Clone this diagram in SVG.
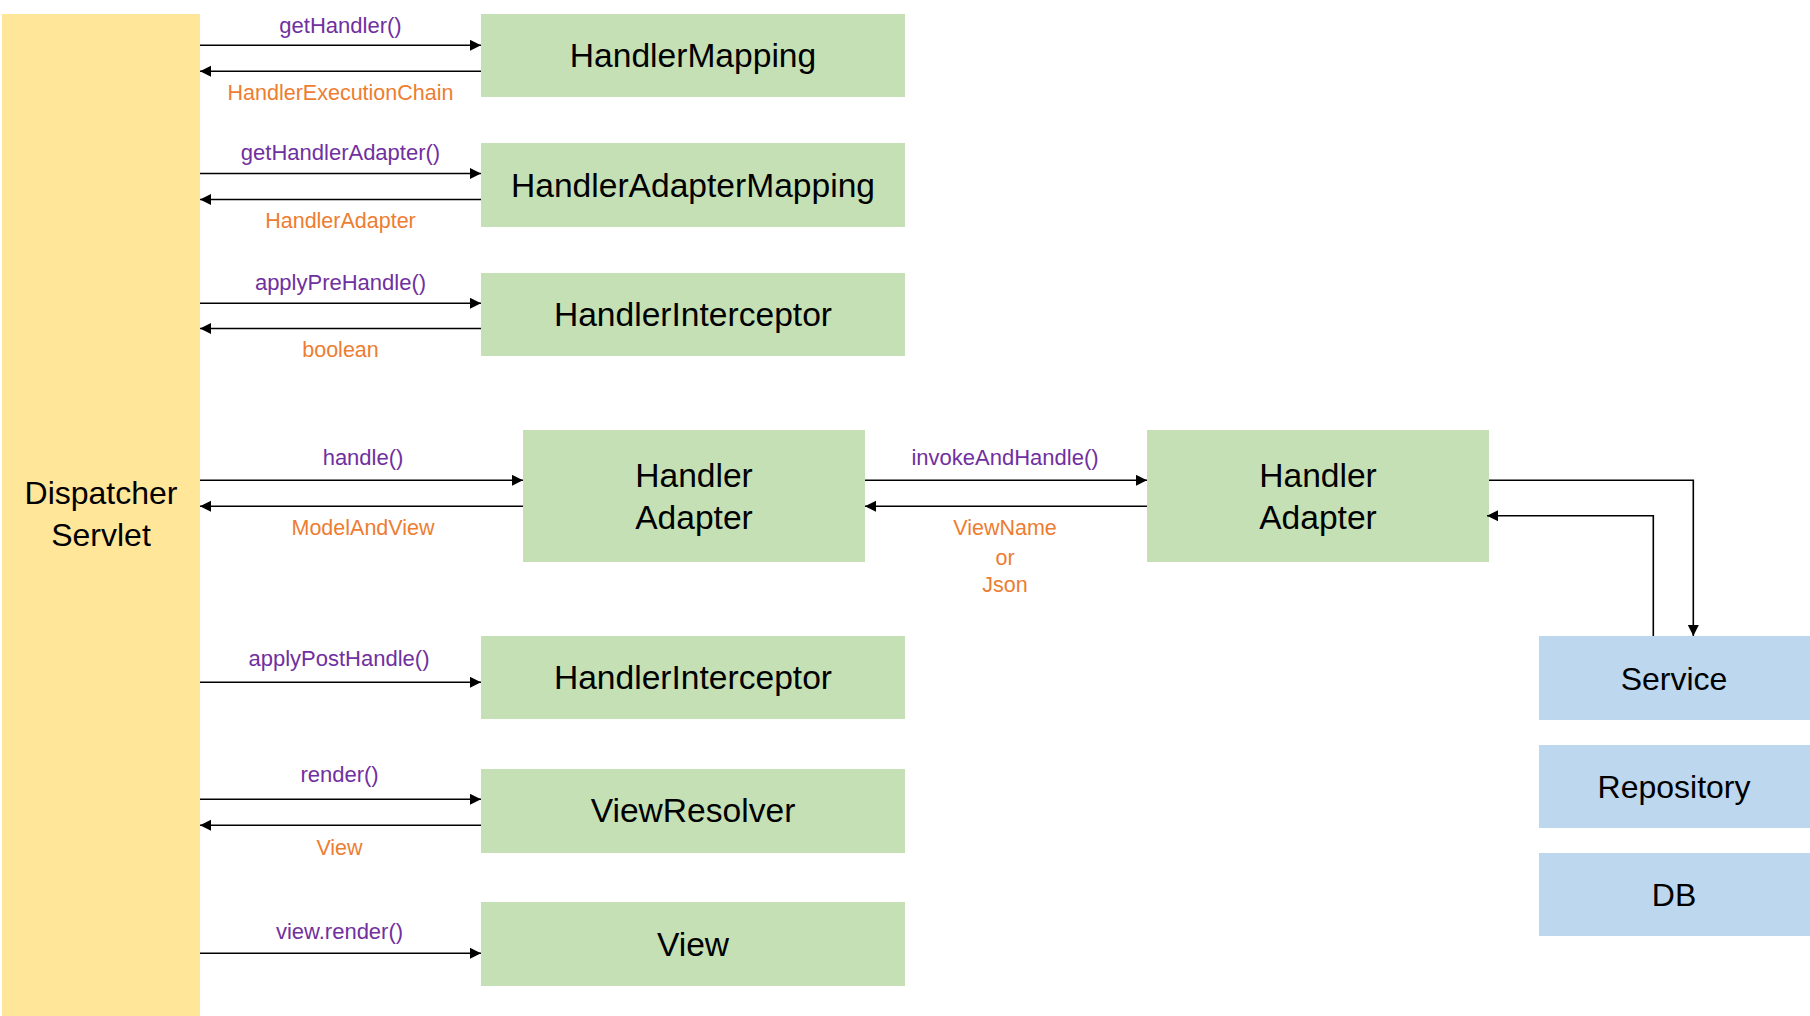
<svg xmlns="http://www.w3.org/2000/svg" width="1810" height="1016" viewBox="0 0 1810 1016">
<style>
.green{fill:#C5E0B4}
.blue{fill:#BDD7EE}
.yellow{fill:#FFE699}
.big{font-family:"Liberation Sans",Arial,sans-serif;font-size:32px;fill:#000;text-anchor:middle}
.gbig{font-family:"Liberation Sans",Arial,sans-serif;font-size:33.6px;fill:#000;text-anchor:middle}
.call{font-family:"Liberation Sans",Arial,sans-serif;font-size:22px;fill:#7030A0;text-anchor:middle}
.ret{font-family:"Liberation Sans",Arial,sans-serif;font-size:21.5px;fill:#ED7D31;text-anchor:middle}
.line{fill:none;stroke:#000;stroke-width:1.6}
</style>
<defs>
<marker id="ah" markerUnits="userSpaceOnUse" markerWidth="12" markerHeight="12" refX="11" refY="5.5" orient="auto">
<path d="M0,0 L11,5.5 L0,11 z" fill="#000"/>
</marker>
</defs>
<rect width="1810" height="1016" fill="#fff"/>

<g id="dispatcher">
<rect class="yellow" x="2" y="14" width="198" height="1002"/>
<text class="big" x="101" y="504">Dispatcher</text>
<text class="big" x="101" y="546">Servlet</text>
</g>

<g id="handlerMapping">
<rect class="green" x="481" y="14" width="424" height="83"/>
<text class="gbig" x="693" y="67">HandlerMapping</text>
</g>
<g id="handlerAdapterMapping">
<rect class="green" x="481" y="143" width="424" height="84"/>
<text class="gbig" x="693" y="196.5">HandlerAdapterMapping</text>
</g>
<g id="handlerInterceptorPre">
<rect class="green" x="481" y="273" width="424" height="83"/>
<text class="gbig" x="693" y="326">HandlerInterceptor</text>
</g>
<g id="handlerAdapterLeft">
<rect class="green" x="523" y="430" width="342" height="132"/>
<text class="gbig" x="694" y="487">Handler</text>
<text class="gbig" x="694" y="529">Adapter</text>
</g>
<g id="handlerAdapterRight">
<rect class="green" x="1147" y="430" width="342" height="132"/>
<text class="gbig" x="1318" y="487">Handler</text>
<text class="gbig" x="1318" y="529">Adapter</text>
</g>
<g id="handlerInterceptorPost">
<rect class="green" x="481" y="636" width="424" height="83"/>
<text class="gbig" x="693" y="689">HandlerInterceptor</text>
</g>
<g id="viewResolver">
<rect class="green" x="481" y="769" width="424" height="84"/>
<text class="gbig" x="693" y="822">ViewResolver</text>
</g>
<g id="view">
<rect class="green" x="481" y="902" width="424" height="84"/>
<text class="gbig" x="693" y="955.5">View</text>
</g>
<g id="service">
<rect class="blue" x="1539" y="636" width="271" height="84"/>
<text class="big" x="1674" y="690">Service</text>
</g>
<g id="repository">
<rect class="blue" x="1539" y="745" width="271" height="83"/>
<text class="big" x="1674" y="798">Repository</text>
</g>
<g id="db">
<rect class="blue" x="1539" y="853" width="271" height="83"/>
<text class="big" x="1674" y="906">DB</text>
</g>

<g id="connectors">
<path class="line" d="M200,45.3 H481" marker-end="url(#ah)"/>
<path class="line" d="M481,71.3 H200" marker-end="url(#ah)"/>
<path class="line" d="M200,173.5 H481" marker-end="url(#ah)"/>
<path class="line" d="M481,199.5 H200" marker-end="url(#ah)"/>
<path class="line" d="M200,303.3 H481" marker-end="url(#ah)"/>
<path class="line" d="M481,328.5 H200" marker-end="url(#ah)"/>
<path class="line" d="M200,480.3 H523" marker-end="url(#ah)"/>
<path class="line" d="M523,506.3 H200" marker-end="url(#ah)"/>
<path class="line" d="M865,480.3 H1147" marker-end="url(#ah)"/>
<path class="line" d="M1147,506.3 H865" marker-end="url(#ah)"/>
<path class="line" d="M1489,480.3 H1693.3 V636" marker-end="url(#ah)"/>
<path class="line" d="M1653.3,636 V515.7 H1487" marker-end="url(#ah)"/>
<path class="line" d="M200,682.3 H481" marker-end="url(#ah)"/>
<path class="line" d="M200,799.3 H481" marker-end="url(#ah)"/>
<path class="line" d="M481,825.3 H200" marker-end="url(#ah)"/>
<path class="line" d="M200,953.3 H481" marker-end="url(#ah)"/>

<text class="call" x="340.5" y="33">getHandler()</text>
<text class="ret" x="340.5" y="100">HandlerExecutionChain</text>
<text class="call" x="340.5" y="160">getHandlerAdapter()</text>
<text class="ret" x="340.5" y="227.5">HandlerAdapter</text>
<text class="call" x="340.5" y="289.5">applyPreHandle()</text>
<text class="ret" x="340.5" y="357">boolean</text>
<text class="call" x="363" y="465">handle()</text>
<text class="ret" x="363" y="535">ModelAndView</text>
<text class="call" x="1005" y="465">invokeAndHandle()</text>
<text class="ret" x="1005" y="535">ViewName</text>
<text class="ret" x="1005" y="565">or</text>
<text class="ret" x="1005" y="592">Json</text>
<text class="call" x="339" y="666">applyPostHandle()</text>
<text class="call" x="339.5" y="782">render()</text>
<text class="ret" x="339.5" y="855">View</text>
<text class="call" x="339.5" y="939">view.render()</text>
</g>
</svg>
